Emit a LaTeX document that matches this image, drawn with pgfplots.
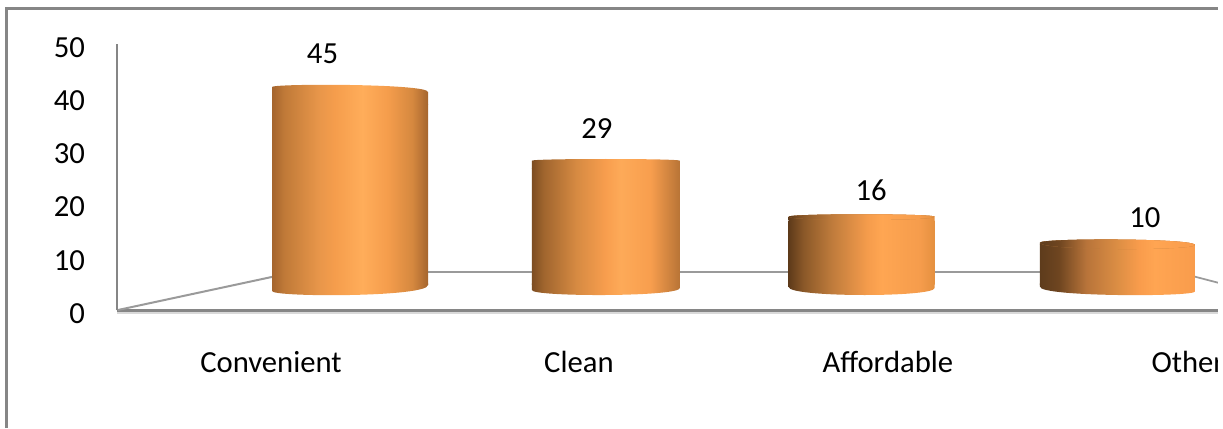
\documentclass[border=0pt]{standalone}
\usepackage{fontspec}
\setmainfont{Carlito}
\usepackage{pgfplots}
\pgfplotsset{compat=1.18}

\definecolor{cA0}{HTML}{A5652E}\definecolor{cA1}{HTML}{C07A38}\definecolor{cA2}{HTML}{E8964A}\definecolor{cA3}{HTML}{F59D4C}\definecolor{cA4}{HTML}{FFAD5A}\definecolor{cA5}{HTML}{D5883F}
\definecolor{cB0}{HTML}{7C4D22}\definecolor{cB1}{HTML}{A0652E}\definecolor{cB2}{HTML}{D68A42}\definecolor{cB3}{HTML}{F89E4E}\definecolor{cB4}{HTML}{FDAA58}\definecolor{cB5}{HTML}{B87436}
\definecolor{cC0}{HTML}{5E3A1A}\definecolor{cC1}{HTML}{8A5828}\definecolor{cC2}{HTML}{C07C3C}\definecolor{cC3}{HTML}{F59C4C}\definecolor{cC4}{HTML}{FFA652}\definecolor{cC5}{HTML}{E4903F}
\definecolor{cD0}{HTML}{5E3C1C}\definecolor{cD1}{HTML}{6E4520}\definecolor{cD2}{HTML}{B8743A}\definecolor{cD3}{HTML}{DC8E44}\definecolor{cD4}{HTML}{F99C4C}\definecolor{cD5}{HTML}{FFA552}
\definecolor{framegray}{HTML}{868686}
\definecolor{wallgray}{HTML}{9A9A9A}
\definecolor{capbrown}{HTML}{BB7A3C}

% Cylinder body shadings: 25bp is the left edge of a bar, 75bp the right edge
\pgfdeclarehorizontalshading{cylA}{100bp}{color(0bp)=(cA0);color(25bp)=(cA0);color(29bp)=(cA1);color(40bp)=(cA2);color(45bp)=(cA3);color(54bp)=(cA4);color(62bp)=(cA3);color(70bp)=(cA5);color(75bp)=(cA0);color(100bp)=(cA0)}
\pgfdeclarehorizontalshading{cylB}{100bp}{color(0bp)=(cB0);color(25bp)=(cB0);color(29bp)=(cB1);color(40bp)=(cB2);color(50bp)=(cB3);color(55bp)=(cB4);color(65bp)=(cB3);color(75bp)=(cB5);color(100bp)=(cB5)}
\pgfdeclarehorizontalshading{cylC}{100bp}{color(0bp)=(cC0);color(25bp)=(cC0);color(30bp)=(cC1);color(40bp)=(cC2);color(52bp)=(cC3);color(57bp)=(cC4);color(70bp)=(cC3);color(75bp)=(cC5);color(100bp)=(cC5)}
\pgfdeclarehorizontalshading{cylD}{100bp}{color(0bp)=(cD0);color(25bp)=(cD0);color(31bp)=(cD1);color(40bp)=(cD2);color(50bp)=(cD3);color(57bp)=(cD4);color(62bp)=(cD5);color(75bp)=(cD4);color(100bp)=(cD4)}

% Rounded cylinder top, offsets in px from the plotted point:
% name, shading, half width, rim left, rim right, peak, front rim centre, cap opacity
\newcommand\cylmarks[8]{%
  \pgfdeclareplotmark{#1top}{%
    \begin{scope}[x=.75pt,y=.75pt]
      \path[draw=none,shading=#2] ({-1*#3},0) -- ({-1*#3},#4)
        .. controls ({-1*#3},{(8*#6-#4-#5)/6}) and (#3,{(8*#6-#4-#5)/6}) .. (#3,#5)
        -- (#3,0) -- cycle;
      \path[draw=none,fill=capbrown,fill opacity=#8] ({-1*#3},#4)
        .. controls ({-1*#3},{(8*#6-#4-#5)/6}) and (#3,{(8*#6-#4-#5)/6}) .. (#3,#5)
        .. controls (#3,{(8*#7-#4-#5)/6}) and ({-1*#3},{(8*#7-#4-#5)/6}) .. ({-1*#3},#4) -- cycle;
    \end{scope}}%
}
% Rounded cylinder bottom: name, shading, half width, edge left, edge right
\newcommand\cylbottom[5]{%
  \pgfdeclareplotmark{#1bot}{%
    \begin{scope}[x=.75pt,y=.75pt]
      \path[draw=none,shading=#2] ({-1*#3},1) -- ({-1*#3},#4)
        .. controls ({-1*#3},{(8*(-10.5)-(#4)-(#5))/6}) and (#3,{(8*(-10.5)-(#4)-(#5))/6}) .. (#3,#5)
        -- (#3,1) -- cycle;
    \end{scope}}%
}
\cylmarks{a}{cylA}{78}{17.5}{12.5}{19.5}{12}{0}
\cylmarks{b}{cylB}{74}{7.8}{7.8}{9.5}{6}{0}
\cylmarks{c}{cylC}{73}{3.8}{3.8}{6.2}{0.5}{1}
\cylmarks{d}{cylD}{77.5}{1.8}{-0.5}{5}{-4.5}{1}
\cylbottom{a}{cylA}{78}{-6.5}{-0.5}
\cylbottom{b}{cylB}{74}{-5.5}{-3.5}
\cylbottom{c}{cylC}{73}{-2.5}{-3.5}
\cylbottom{d}{cylD}{77.5}{-2.2}{-7}

\begin{document}
\begin{tikzpicture}[every node/.append style={font=\fontsize{23}{27}\selectfont}]
\path[use as bounding box] (0,0) rectangle (917.25pt,321pt);

% Outer frame, open at the bottom
\begin{scope}[x=.75pt,y=-.75pt,yshift=321pt]
  \draw[framegray,line width=1.7pt] (6.5,428) -- (6.5,8.5) -- (1218,8.5);
\end{scope}

% Floor shadow beneath the category axis
\begin{scope}[x=.75pt,y=-.75pt,yshift=321pt]
  \draw[black!15,line width=1.4pt] (117,313) -- (1218,313);
\end{scope}

% Value axis and category labels
\begin{axis}[
  at={(87.75pt,88.125pt)}, anchor=south west,
  scale only axis, width=825.75pt, height=199.65pt,
  xmin=-0.5, xmax=3.075, ymin=0, ymax=50,
  axis lines=left,
  axis line style={-,draw=framegray,line width=1.7pt},
  tick style={draw=none},
  xtick={0,1,2.003,2.977},
  xticklabels={Convenient,Clean,Affordable,Other},
  ytick={0,10,20,30,40,50},
  /pgf/number format/assume math mode=true,
  xticklabel style={anchor=center,yshift=-36.4pt,inner sep=0pt,font=\fontsize{23}{27}\selectfont},
  yticklabel style={anchor=east,xshift=-21.75pt,yshift=-2.2pt,inner sep=0pt,font=\fontsize{23}{27}\selectfont},
]
\end{axis}

% Floor edges and back wall line
\begin{scope}[x=.75pt,y=-.75pt,yshift=321pt]
  \draw[wallgray,line width=1.5pt] (118,310) -- (274,276.5);
  \draw[wallgray,line width=1.5pt] (428,271.7) -- (1040,271.7);
  \draw[wallgray,line width=1.3pt] (1195,276.7) -- (1218,282.7);
\end{scope}

% Cylinders, drawn from the values
\begin{axis}[
  at={(87.75pt,107.625pt)}, anchor=south west,
  scale only axis, width=825.75pt, height=150pt,
  xmin=-0.9108, xmax=3.393, ymin=0, ymax=50,
  axis lines=none, clip=false,
  /pgf/number format/assume math mode=true,
]
\addplot[only marks,draw=none,mark=abot] coordinates {(0,0)};
\addplot[ybar,bar width=117pt,bar shift=0pt,draw=none,shading=cylA,mark=atop,
  nodes near coords,
  nodes near coords style={anchor=center,xshift=-20.6pt,yshift=37.9pt,inner sep=0pt,font=\fontsize{23}{27}\selectfont}]
  coordinates {(0,45)};
\addplot[only marks,draw=none,mark=bbot] coordinates {(1,0)};
\addplot[ybar,bar width=111pt,bar shift=0pt,draw=none,shading=cylB,mark=btop,
  nodes near coords,
  nodes near coords style={anchor=center,xshift=-6.7pt,yshift=29.6pt,inner sep=0pt,font=\fontsize{23}{27}\selectfont}]
  coordinates {(1,29)};
\addplot[only marks,draw=none,mark=cbot] coordinates {(2,0)};
\addplot[ybar,bar width=109.5pt,bar shift=0pt,draw=none,shading=cylC,mark=ctop,
  nodes near coords,
  nodes near coords style={anchor=center,xshift=7.1pt,yshift=22.9pt,inner sep=0pt,font=\fontsize{23}{27}\selectfont}]
  coordinates {(2,16)};
\addplot[only marks,draw=none,mark=dbot] coordinates {(3,0)};
\addplot[ybar,bar width=116.25pt,bar shift=0pt,draw=none,shading=cylD,mark=dtop,
  nodes near coords,
  nodes near coords style={anchor=center,xshift=20.6pt,yshift=19.9pt,inner sep=0pt,font=\fontsize{23}{27}\selectfont}]
  coordinates {(3,10)};
\end{axis}

% Right margin beyond the chart area
\fill[white] (913.5pt,0pt) rectangle (917.25pt,321pt);
\end{tikzpicture}
\end{document}
